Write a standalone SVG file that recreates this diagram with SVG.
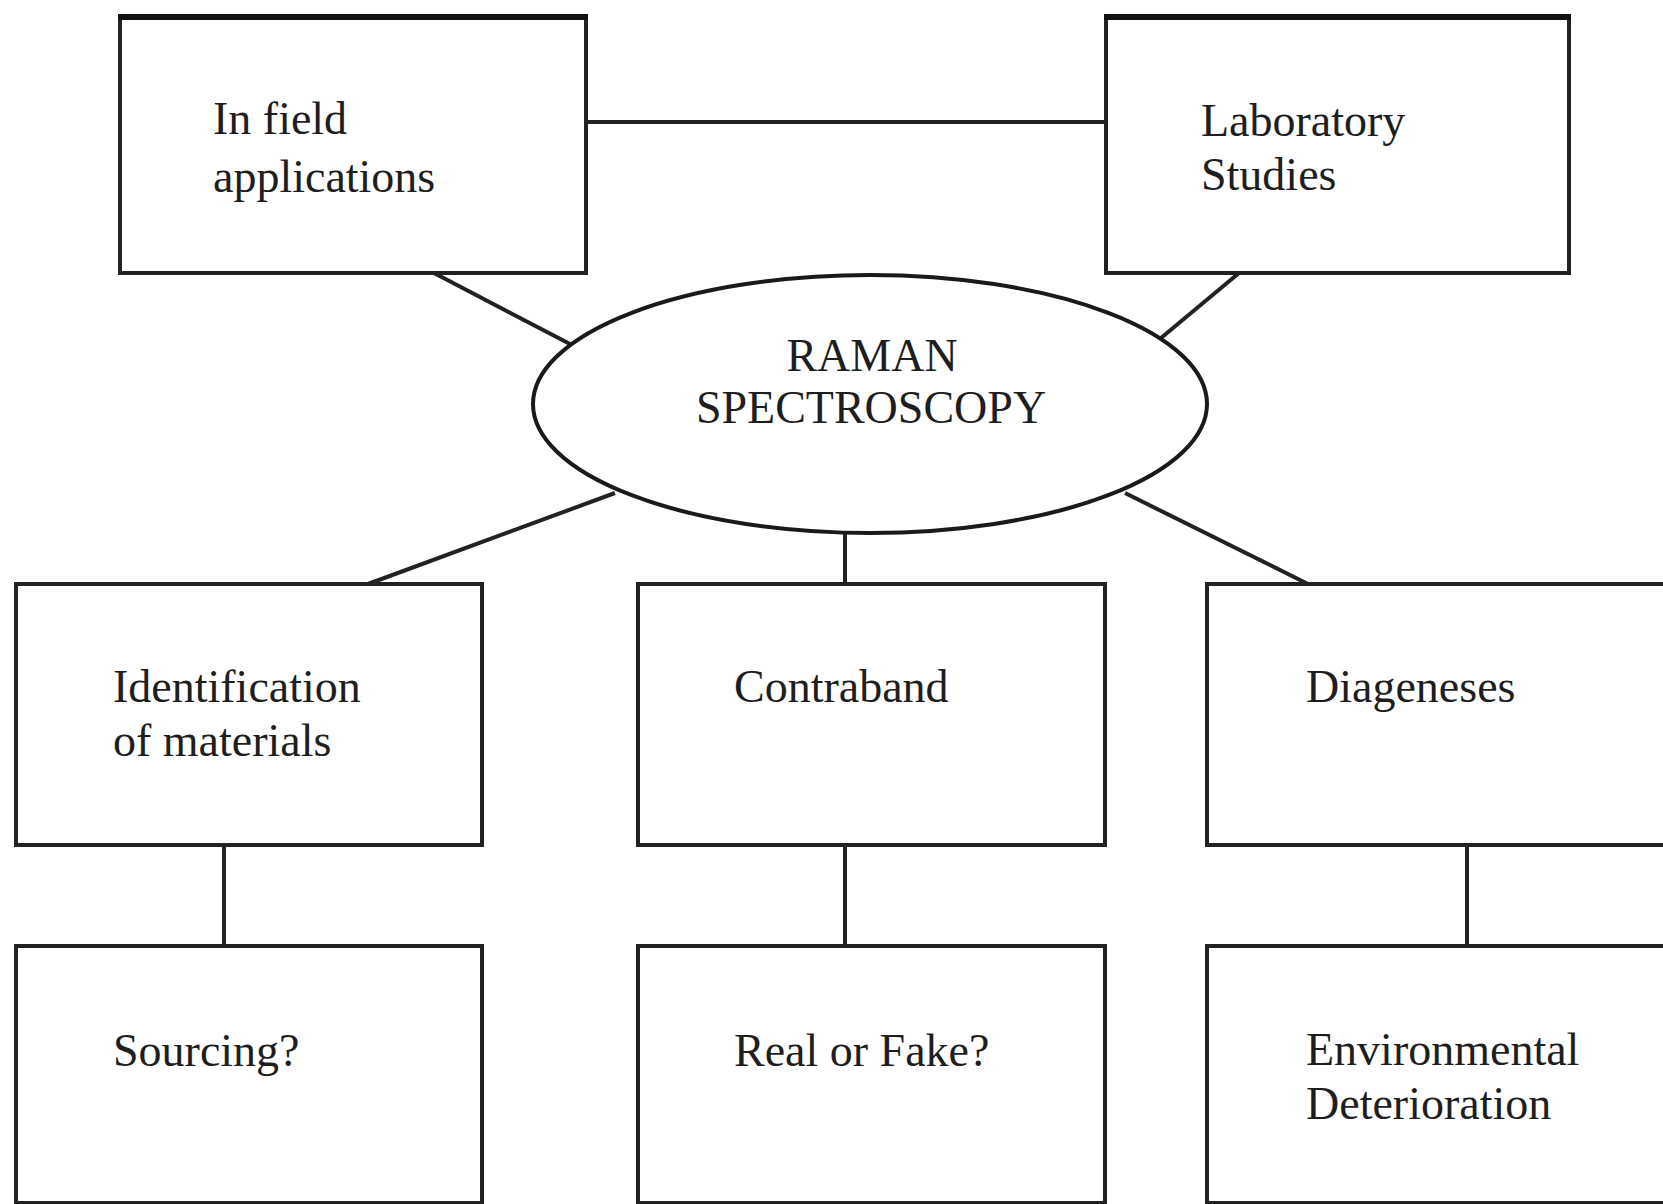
<svg xmlns="http://www.w3.org/2000/svg" width="1663" height="1204" viewBox="0 0 1663 1204">
<style>
.box{fill:#ffffff;stroke:#222222;stroke-width:4}
.topedge{stroke:#111111;stroke-width:6}
.ell{fill:#ffffff;stroke:#1a1a1a;stroke-width:4}
.conn{stroke:#222222;stroke-width:4;fill:none}
.t{font-family:"Liberation Serif","Times New Roman",serif;font-size:46px;fill:#1e1e1e}
.c{text-anchor:middle}
</style>
<rect width="1663" height="1204" fill="#ffffff"/>
<g id="connectors">
<line class="conn" x1="586" y1="122" x2="1106" y2="122"/>
<line class="conn" x1="434" y1="273" x2="570" y2="344"/>
<line class="conn" x1="1239" y1="273" x2="1161" y2="338"/>
<line class="conn" x1="615" y1="493" x2="368" y2="584"/>
<line class="conn" x1="845" y1="533" x2="845" y2="584"/>
<line class="conn" x1="1125" y1="493" x2="1308" y2="584"/>
<line class="conn" x1="224" y1="845" x2="224" y2="946"/>
<line class="conn" x1="845" y1="845" x2="845" y2="946"/>
<line class="conn" x1="1467" y1="845" x2="1467" y2="946"/>
</g>
<g id="in-field">
<rect class="box" x="120" y="17" width="466" height="256"/>
<line class="topedge" x1="118" y1="17" x2="588" y2="17"/>
<text class="t" x="213" y="134">In field</text>
<text class="t" x="213" y="192">applications</text>
</g>
<g id="laboratory">
<rect class="box" x="1106" y="17" width="463" height="256"/>
<line class="topedge" x1="1104" y1="17" x2="1571" y2="17"/>
<text class="t" x="1201" y="136">Laboratory</text>
<text class="t" x="1201" y="190">Studies</text>
</g>
<g id="raman">
<ellipse class="ell" cx="870" cy="404" rx="337" ry="129"/>
<text class="t c" x="872" y="371" font-size="45">RAMAN</text>
<text class="t c" x="871" y="423" font-size="45">SPECTROSCOPY</text>
</g>
<g id="identification">
<rect class="box" x="16" y="584" width="466" height="261"/>
<text class="t" x="113" y="702">Identification</text>
<text class="t" x="113" y="756">of materials</text>
</g>
<g id="contraband">
<rect class="box" x="638" y="584" width="467" height="261"/>
<text class="t" x="734" y="702">Contraband</text>
</g>
<g id="diageneses">
<rect class="box" x="1207" y="584" width="480" height="261"/>
<text class="t" x="1306" y="702">Diageneses</text>
</g>
<g id="sourcing">
<rect class="box" x="16" y="946" width="466" height="257"/>
<text class="t" x="113" y="1066">Sourcing?</text>
</g>
<g id="real-or-fake">
<rect class="box" x="638" y="946" width="467" height="257"/>
<text class="t" x="734" y="1066">Real or Fake?</text>
</g>
<g id="environmental">
<rect class="box" x="1207" y="946" width="480" height="257"/>
<text class="t" x="1306" y="1065">Environmental</text>
<text class="t" x="1306" y="1119">Deterioration</text>
</g>
</svg>
